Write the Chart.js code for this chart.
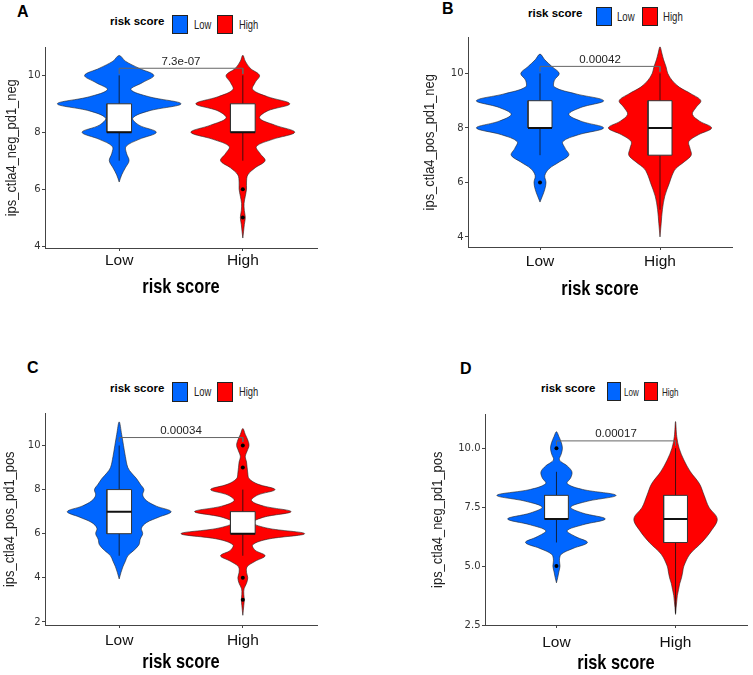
<!DOCTYPE html>
<html>
<head>
<meta charset="utf-8">
<script src="https://cdn.jsdelivr.net/npm/chart.js@4.4.0/dist/chart.umd.min.js"></script>
<style>
  body { margin: 0; background: #fff; }
  #wrap { position: relative; width: 753px; height: 675px; overflow: hidden; }
  #wrap canvas { position: absolute; }
  .tag { position: absolute; font: bold 16px 'Liberation Sans', Arial, sans-serif; line-height: 16px; color: #000; }
  .lg { position: absolute; height: 20px; line-height: 20px; white-space: nowrap; color: #000; transform-origin: 0 50%; }
  .lg.ttl { font: bold 11.5px 'Liberation Sans', Arial, sans-serif; }
  .lg.lab { font-family: 'Liberation Sans', Arial, sans-serif; color: #222; }
  .sw { position: absolute; border: 1px solid #222; box-sizing: border-box; }
</style>
</head>
<body>
<div id="wrap">
  <canvas id="cA" width="330" height="265"></canvas>
  <canvas id="cB" width="320" height="275"></canvas>
  <canvas id="cC" width="330" height="269"></canvas>
  <canvas id="cD" width="325" height="268"></canvas>
</div>
<script>
// groups on the x axis
const groups = ['Low', 'High'];
const groupPos = [1, 2];
const groupColors = ['#0066ff', '#ff0000'];
const xTitle = 'risk score';

// ---- panel A : ips_ctla4_neg_pd1_neg
const yTicksA = [4, 6, 8, 10];
const lowA_y = [6.25, 6.5, 6.75, 7, 7.25, 7.5, 7.75, 8, 8.25, 8.5, 8.75, 9, 9.25, 9.5, 9.75, 10, 10.25, 10.5, 10.7];
const lowA_w = [0, 0.02, 0.05, 0.08, 0.06, 0.055, 0.16, 0.30, 0.16, 0.11, 0.24, 0.50, 0.24, 0.095, 0.19, 0.28, 0.16, 0.05, 0];
const highA_y = [4.28, 4.5, 4.75, 5, 5.25, 5.5, 5.75, 6, 6.25, 6.5, 6.75, 7, 7.25, 7.5, 7.75, 8, 8.25, 8.5, 8.75, 9, 9.25, 9.5, 9.75, 10, 10.25, 10.5, 10.71];
const highA_w = [0, 0.006, 0.012, 0.02, 0.012, 0.01, 0.02, 0.03, 0.03, 0.04, 0.1, 0.18, 0.14, 0.11, 0.24, 0.42, 0.26, 0.135, 0.2, 0.38, 0.2, 0.08, 0.1, 0.135, 0.06, 0.02, 0];
const boxLowA = [7, 8, 8, 9, 10];   // whisker low, q1, median, q3, whisker high
const boxHighA = [7, 8, 8, 9, 10];
const outLowA = [];
const outHighA = [6, 5];
const pA = '7.3e-07';

// ---- panel B : ips_ctla4_pos_pd1_neg
const yTicksB = [4, 6, 8, 10];
const lowB_y = [5.28, 5.5, 5.75, 6, 6.25, 6.5, 6.75, 7, 7.25, 7.5, 7.75, 8, 8.25, 8.5, 8.75, 9, 9.25, 9.5, 9.75, 10, 10.25, 10.5, 10.71];
const lowB_w = [0, 0.02, 0.04, 0.05, 0.04, 0.075, 0.16, 0.24, 0.21, 0.19, 0.32, 0.53, 0.34, 0.24, 0.34, 0.53, 0.3, 0.12, 0.12, 0.16, 0.1, 0.04, 0];
const highB_y = [4.0, 4.5, 5, 5.5, 6, 6.25, 6.5, 6.75, 7, 7.25, 7.5, 7.75, 8, 8.25, 8.5, 8.75, 9, 9.25, 9.5, 9.75, 10, 10.25, 10.5, 10.75, 10.98];
const highB_w = [0, 0.01, 0.02, 0.04, 0.08, 0.1, 0.13, 0.2, 0.26, 0.25, 0.24, 0.32, 0.43, 0.33, 0.27, 0.3, 0.34, 0.26, 0.16, 0.1, 0.065, 0.05, 0.03, 0.015, 0];
const boxLowB = [7, 8, 8, 9, 10];
const boxHighB = [5, 7, 8, 9, 10];
const outLowB = [6];
const outHighB = [];
const pB = '0.00042';

// ---- panel C : ips_ctla4_pos_pd1_pos
const yTicksC = [2, 4, 6, 8, 10];
const lowC_y = [3.95, 4.25, 4.5, 4.75, 5, 5.25, 5.5, 5.75, 6, 6.25, 6.5, 6.75, 7, 7.25, 7.5, 7.75, 8, 8.25, 8.5, 8.75, 9, 9.5, 10, 10.5, 11.07];
const lowC_w = [0, 0.015, 0.03, 0.05, 0.07, 0.12, 0.16, 0.17, 0.19, 0.18, 0.22, 0.32, 0.42, 0.3, 0.22, 0.19, 0.2, 0.17, 0.14, 0.1, 0.07, 0.05, 0.035, 0.02, 0];
const highC_y = [2.3, 2.75, 3, 3.25, 3.5, 3.75, 4, 4.25, 4.5, 4.75, 5, 5.25, 5.5, 5.75, 6, 6.25, 6.5, 6.75, 7, 7.25, 7.5, 7.75, 8, 8.25, 8.5, 8.75, 9, 9.25, 9.5, 9.75, 10, 10.25, 10.5, 10.77];
const highC_w = [0, 0.008, 0.012, 0.008, 0.01, 0.03, 0.04, 0.03, 0.035, 0.1, 0.18, 0.1, 0.08, 0.2, 0.5, 0.2, 0.08, 0.17, 0.39, 0.17, 0.07, 0.12, 0.26, 0.12, 0.05, 0.04, 0.035, 0.03, 0.02, 0.035, 0.05, 0.04, 0.02, 0];
const boxLowC = [5, 6, 7, 8, 10];
const boxHighC = [5, 6, 6, 7, 8];
const outLowC = [];
const outHighC = [10, 9, 4, 3];
const pC = '0.00034';

// ---- panel D : ips_ctla4_neg_pd1_pos
const yTicksD = [2.5, 5, 7.5, 10];
const yLabelsD = ['2.5', '5.0', '7.5', '10.0'];
const lowD_y = [4.29, 4.5, 4.75, 5, 5.25, 5.5, 5.75, 6, 6.25, 6.5, 6.75, 7, 7.25, 7.5, 7.75, 8, 8.25, 8.5, 8.75, 9, 9.25, 9.5, 9.75, 10, 10.25, 10.5, 10.7];
const lowD_w = [0, 0.01, 0.02, 0.03, 0.025, 0.04, 0.14, 0.26, 0.16, 0.09, 0.22, 0.41, 0.22, 0.12, 0.26, 0.5, 0.22, 0.09, 0.12, 0.13, 0.09, 0.025, 0.04, 0.05, 0.04, 0.02, 0];
const highD_y = [2.95, 3.25, 3.5, 3.75, 4, 4.25, 4.5, 4.75, 5, 5.5, 6, 6.5, 7, 7.5, 8, 8.5, 9, 9.5, 10, 10.5, 11.13];
const highD_w = [0, 0.005, 0.01, 0.015, 0.025, 0.035, 0.05, 0.06, 0.07, 0.12, 0.22, 0.3, 0.35, 0.28, 0.24, 0.2, 0.125, 0.07, 0.03, 0.01, 0];
const boxLowD = [6, 7, 7, 8, 9];
const boxHighD = [3, 6, 7, 8, 10];
const outLowD = [10, 5];
const outHighD = [];
const pD = '0.00017';

const SANS = "'Liberation Sans', Arial, sans-serif";

// layout of each panel (pixels)
const panels = [
  { id: 'cA', tag: 'A', yTitle: 'ips_ctla4_neg_pd1_neg', yTicks: yTicksA, yLabels: null, yMin: 3.93, yMax: 10.98,
    violins: [[lowA_y, lowA_w], [highA_y, highA_w]], boxes: [boxLowA, boxHighA], outs: [outLowA, outHighA], p: pA, pY: 10.25,
    pos: { l: 0, t: 40 }, yW: 45, padTop: 7, padRight: 13, xH: 57, xTickPad: 0, xTitleY: 247, yTitleX: 12,
    tagPos: [17, 4], legend: { cy: 24.5, ttl: 110, sw1: 172, t1: 194, sw2: 217, t2: 239, sw: [16, 19], fs: 12, sx: 0.78 } },
  { id: 'cB', tag: 'B', yTitle: 'ips_ctla4_pos_pd1_neg', yTicks: yTicksB, yLabels: null, yMin: 3.63, yMax: 11.32,
    violins: [[lowB_y, lowB_w], [highB_y, highB_w]], boxes: [boxLowB, boxHighB], outs: [outLowB, outHighB], p: pB, pY: 10.26,
    pos: { l: 423, t: 30 }, yW: 45, padTop: 7, padRight: 11, xH: 58, xTickPad: 2, xTitleY: 259, yTitleX: 7,
    tagPos: [442, 1], legend: { cy: 16.5, ttl: 528, sw1: 596, t1: 617, sw2: 642, t2: 663, sw: [16, 19], fs: 12, sx: 0.8 } },
  { id: 'cC', tag: 'C', yTitle: 'ips_ctla4_pos_pd1_pos', yTicks: yTicksC, yLabels: null, yMin: 1.86, yMax: 11.45,
    violins: [[lowC_y, lowC_w], [highC_y, highC_w]], boxes: [boxLowC, boxHighC], outs: [outLowC, outHighC], p: pC, pY: 10.36,
    pos: { l: 0, t: 406 }, yW: 45, padTop: 7, padRight: 13, xH: 50, xTickPad: 3, xTitleY: 256, yTitleX: 10,
    tagPos: [27, 360], legend: { cy: 391.5, ttl: 110, sw1: 172, t1: 194, sw2: 217, t2: 239, sw: [16, 20], fs: 12, sx: 0.78 } },
  { id: 'cD', tag: 'D', yTitle: 'ips_ctla4_neg_pd1_pos', yTicks: yTicksD, yLabels: yLabelsD, yMin: 2.5, yMax: 11.43,
    violins: [[lowD_y, lowD_w], [highD_y, highD_w]], boxes: [boxLowD, boxHighD], outs: [outLowD, outHighD], p: pD, pY: 10.31,
    pos: { l: 428, t: 407 }, yW: 57, padTop: 7, padRight: 6, xH: 50, xTickPad: 5, xTitleY: 256, yTitleX: 10,
    tagPos: [460, 361], legend: { cy: 391.5, ttl: 541, sw1: 607, t1: 624, sw2: 644, t2: 662, sw: [14, 19], fs: 11.5, sx: 0.7 } }
];

// p-value over the bracket
const pLabel = {
  id: 'pLabel',
  afterDatasetsDraw(chart, args, opts) {
    const { ctx, scales: { x, y } } = chart;
    ctx.save();
    ctx.font = '11.5px ' + SANS;
    ctx.fillStyle = '#222';
    ctx.textAlign = 'center';
    ctx.textBaseline = 'bottom';
    ctx.fillText(opts.text, x.getPixelForValue(1.5), y.getPixelForValue(opts.y) - 1);
    ctx.restore();
  }
};

// axis titles in a condensed face (no narrow font installed, so squeeze it)
const axisTitles = {
  id: 'axisTitles',
  afterDraw(chart, args, opts) {
    const { ctx, chartArea: a } = chart;
    ctx.save();
    ctx.font = 'bold 21px ' + SANS;
    ctx.fillStyle = '#000';
    ctx.textAlign = 'center';
    ctx.textBaseline = 'middle';
    ctx.translate((a.left + a.right) / 2, opts.xY);
    ctx.scale(0.78, 1);
    ctx.fillText(opts.x, 0, 0);
    ctx.restore();

    ctx.save();
    ctx.font = '15px ' + SANS;
    ctx.fillStyle = '#222';
    ctx.textAlign = 'center';
    ctx.textBaseline = 'middle';
    ctx.translate(opts.yX, (a.top + a.bottom) / 2);
    ctx.rotate(-Math.PI / 2);
    ctx.scale(0.86, 1);
    ctx.fillText(opts.y, 0, 0);
    ctx.restore();
  }
};

function violinSet(c, ys, ws, color) {
  const pts = [];
  for (let i = 0; i < ys.length; i++) pts.push({ x: c - ws[i], y: ys[i] });
  for (let i = ys.length - 2; i >= 0; i--) pts.push({ x: c + ws[i], y: ys[i] });
  return { data: pts, fill: 'shape', backgroundColor: color, borderColor: '#222', borderWidth: 0.6,
           pointRadius: 0, tension: 0.35, order: 5 };
}

function boxSets(c, b) {
  const h = 0.1;
  return [
    { data: [{ x: c, y: b[0] }, { x: c, y: b[4] }], borderColor: '#111', borderWidth: 0.8, pointRadius: 0, fill: false, order: 4 },
    { data: [{ x: c - h, y: b[1] }, { x: c + h, y: b[1] }, { x: c + h, y: b[3] }, { x: c - h, y: b[3] }, { x: c - h, y: b[1] }],
      fill: 'shape', backgroundColor: '#fff', borderColor: '#333', borderWidth: 1, pointRadius: 0, tension: 0, order: 3 },
    { data: [{ x: c - h, y: b[2] }, { x: c + h, y: b[2] }], borderColor: '#111', borderWidth: 2, pointRadius: 0, fill: false, order: 2 }
  ];
}

function makePanel(P) {
  const cv = document.getElementById(P.id);
  cv.style.left = P.pos.l + 'px';
  cv.style.top = P.pos.t + 'px';

  const datasets = [];
  P.violins.forEach(([ys, ws], i) => datasets.push(violinSet(groupPos[i], ys, ws, groupColors[i])));
  P.boxes.forEach((b, i) => datasets.push(...boxSets(groupPos[i], b)));
  P.outs.forEach((o, i) => datasets.push({
    data: o.map(v => ({ x: groupPos[i], y: v })), showLine: false, pointRadius: 2,
    pointBackgroundColor: '#000', pointBorderWidth: 0, order: 1 }));
  const tip = 0.2;
  datasets.push({
    data: [{ x: 1, y: P.pY - tip }, { x: 1, y: P.pY }, { x: 2, y: P.pY }, { x: 2, y: P.pY - tip }],
    borderColor: '#666', borderWidth: 1, pointRadius: 0, fill: false, order: 0 });

  new Chart(cv, {
    type: 'line',
    data: { datasets },
    plugins: [pLabel, axisTitles],
    options: {
      responsive: false,
      animation: false,
      events: [],
      layout: { padding: { top: P.padTop, right: P.padRight, left: 0, bottom: 0 } },
      plugins: {
        legend: { display: false },
        tooltip: { enabled: false },
        pLabel: { text: P.p, y: P.pY },
        axisTitles: { x: xTitle, xY: P.xTitleY, y: P.yTitle, yX: P.yTitleX }
      },
      scales: {
        x: {
          type: 'linear', min: 0.4, max: 2.6,
          afterBuildTicks: s => { s.ticks = groupPos.map(v => ({ value: v })); },
          afterFit: s => { s.height = P.xH; },
          ticks: { callback: (v, i) => groups[i], font: { family: SANS, size: 15.5 }, color: '#111',
                   padding: P.xTickPad, maxRotation: 0, autoSkip: false },
          grid: { drawOnChartArea: false, drawTicks: true, tickLength: 3, color: '#444' },
          border: { display: true, color: '#444', width: 1 }
        },
        y: {
          type: 'linear', min: P.yMin, max: P.yMax,
          afterBuildTicks: s => { s.ticks = P.yTicks.map(v => ({ value: v })); },
          afterFit: s => { s.width = P.yW; },
          ticks: { callback: (v, i) => P.yLabels ? P.yLabels[i] : String(v), font: { family: 'DejaVu Sans', size: 10 },
                   color: '#333', padding: 1.5 },
          grid: { drawOnChartArea: false, drawTicks: true, tickLength: 3, color: '#444' },
          border: { display: true, color: '#444', width: 1 }
        }
      }
    }
  });

  // panel letter and legend
  const wrap = document.getElementById('wrap');
  const tag = document.createElement('div');
  tag.className = 'tag';
  tag.textContent = P.tag;
  tag.style.left = P.tagPos[0] + 'px';
  tag.style.top = P.tagPos[1] + 'px';
  wrap.appendChild(tag);

  const L = P.legend;
  const add = (cls, text, x, fs, sx) => {
    const d = document.createElement('div');
    d.className = 'lg ' + cls;
    d.textContent = text;
    d.style.left = x + 'px';
    d.style.top = (L.cy - 10) + 'px';
    if (fs) d.style.fontSize = fs + 'px';
    if (sx) d.style.transform = 'scaleX(' + sx + ')';
    wrap.appendChild(d);
  };
  const sw = (x, color) => {
    const d = document.createElement('div');
    d.className = 'sw';
    d.style.left = x + 'px';
    d.style.top = (L.cy - L.sw[1] / 2) + 'px';
    d.style.width = L.sw[0] + 'px';
    d.style.height = L.sw[1] + 'px';
    d.style.background = color;
    wrap.appendChild(d);
  };
  add('ttl', 'risk score', L.ttl);
  sw(L.sw1, groupColors[0]);
  add('lab', groups[0], L.t1, L.fs, L.sx);
  sw(L.sw2, groupColors[1]);
  add('lab', groups[1], L.t2, L.fs, L.sx);
}

panels.forEach(makePanel);
</script>
</body>
</html>
